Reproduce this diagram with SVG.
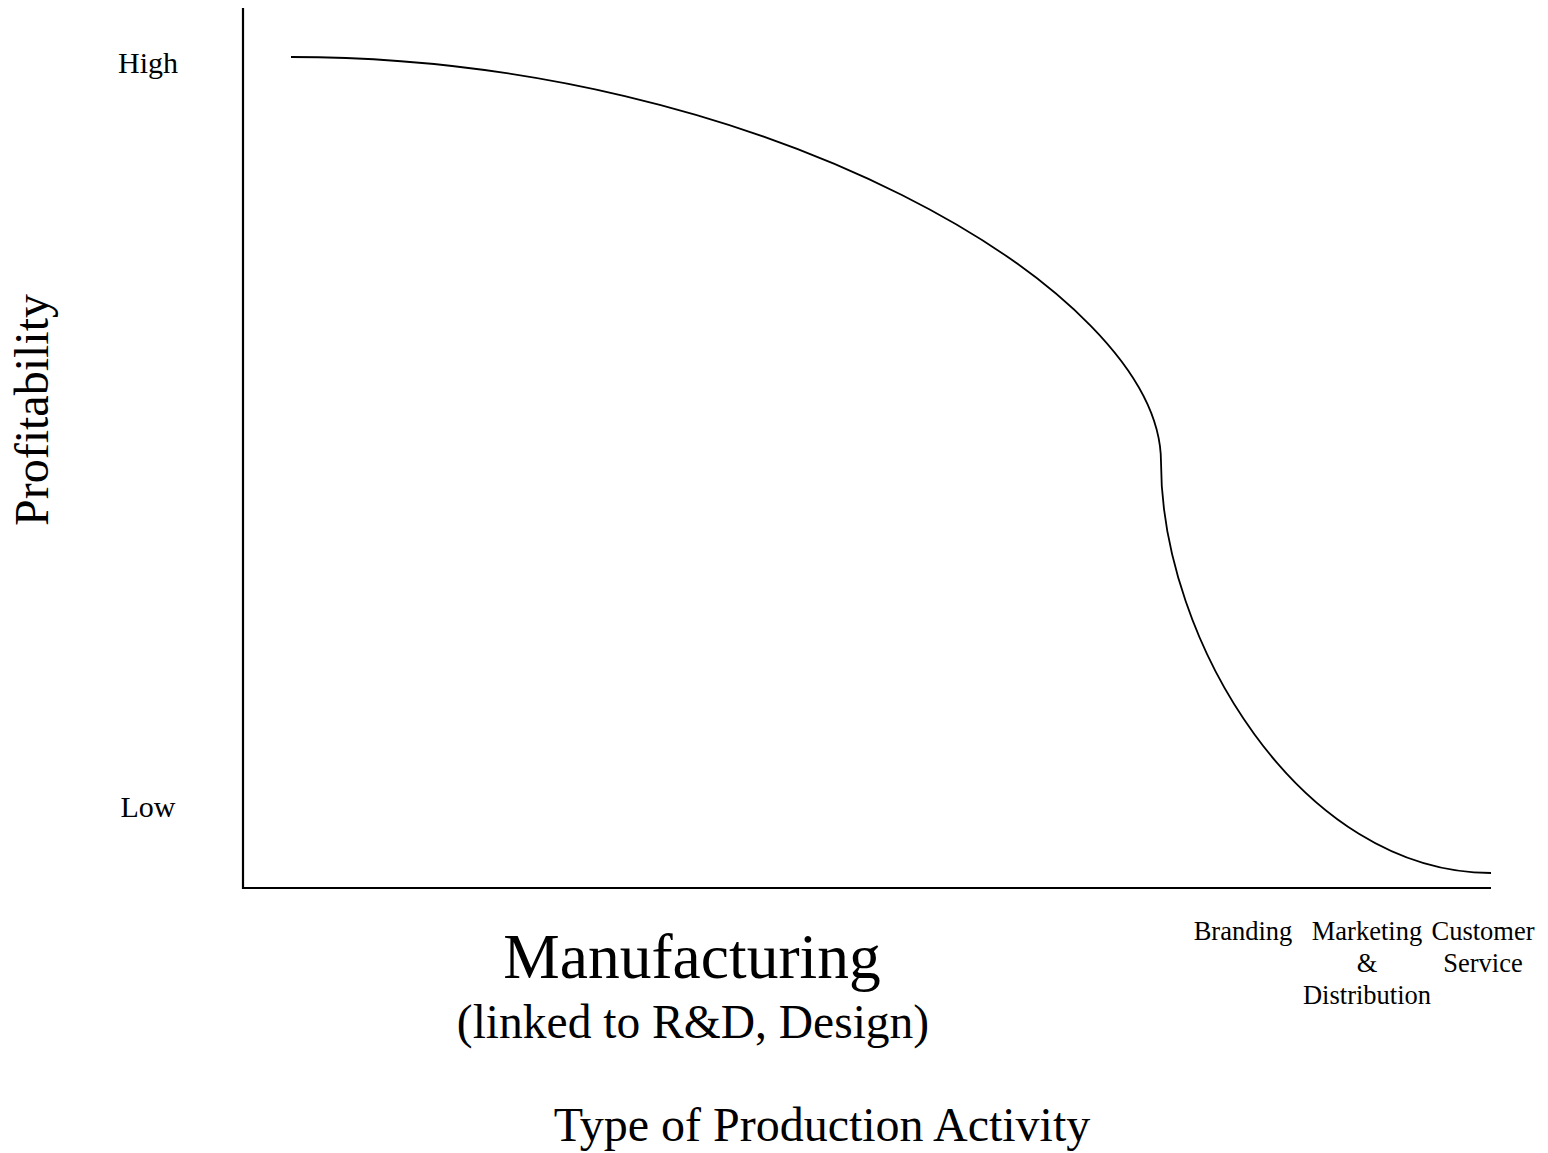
<svg xmlns="http://www.w3.org/2000/svg" width="1548" height="1153" viewBox="0 0 1548 1153">
<style>
text{font-family:"Liberation Serif","Times New Roman",serif;fill:#000;text-anchor:middle}
.ax{stroke:#000;stroke-width:2.2;fill:none}
.cv{stroke:#000;stroke-width:1.8;fill:none}
.s{font-size:26.5px}
.m{font-size:30px}
</style>
<rect width="1548" height="1153" fill="#fff"/>
<g id="axes">
<path class="ax" d="M243,8 V888 H1491"/>
</g>
<g id="connectors">
<path id="curve" class="cv" d="M291,57 C760,57 1161,290 1161,462 C1161,640 1300,873 1491,873"/>
</g>
<g id="y-labels">
<text class="m" x="148" y="73">High</text>
<text class="m" x="148" y="817">Low</text>
<text x="48" y="410" font-size="48" transform="rotate(-90 48 410)">Profitability</text>
</g>
<g id="x-labels">
<text x="692" y="978" font-size="63.5">Manufacturing</text>
<text x="693" y="1038" font-size="47.5">(linked to R&amp;D, Design)</text>
<text x="822" y="1141" font-size="48">Type of Production Activity</text>
<text class="s" x="1243" y="940">Branding</text>
<text class="s" x="1367" y="940">Marketing</text>
<text class="s" x="1367" y="972">&amp;</text>
<text class="s" x="1367" y="1004">Distribution</text>
<text class="s" x="1483" y="940">Customer</text>
<text class="s" x="1483" y="972">Service</text>
</g>
</svg>
